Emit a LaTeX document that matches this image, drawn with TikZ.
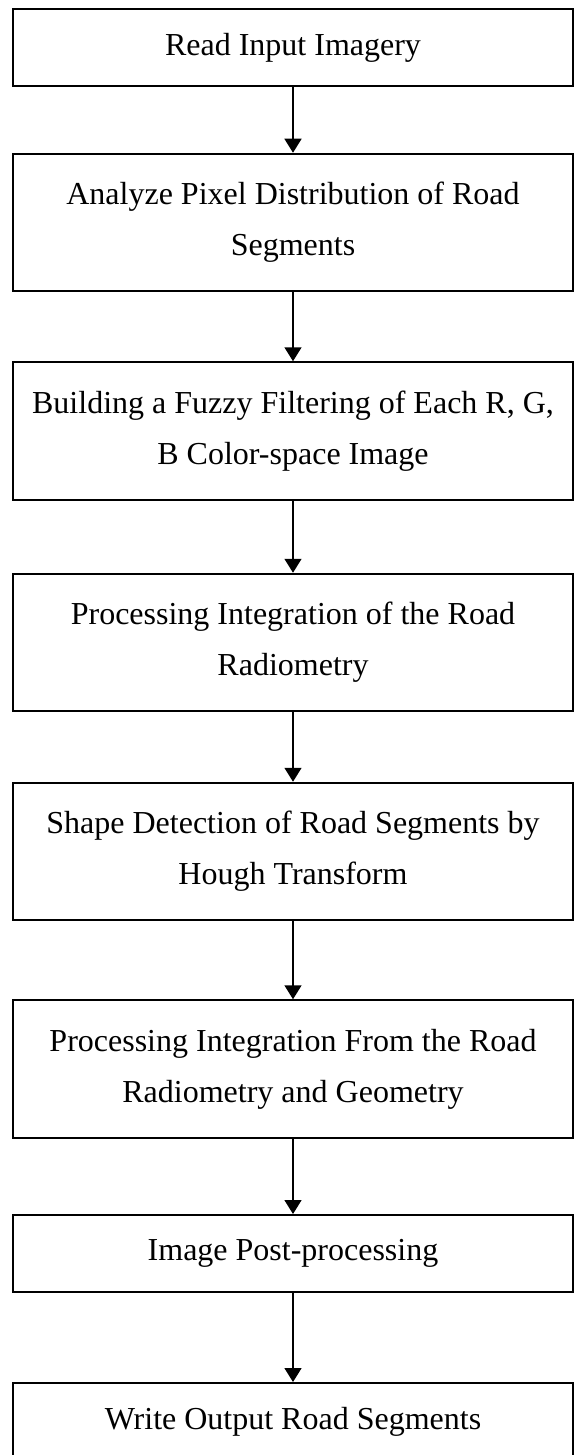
\documentclass[tikz,border=0pt]{standalone}
\usepackage{fontspec}
\setmainfont{Liberation Serif}
\usetikzlibrary{arrows.meta,positioning}

\begin{document}
\begin{tikzpicture}[x=0.5pt,y=-0.5pt,
    stepbox/.style={draw,line width=1pt,minimum width=280pt,inner sep=0pt,
        align=center,font=\fontsize{16}{25.5}\selectfont},
    shortbox/.style={stepbox,minimum height=38.5pt},
    tallbox/.style={stepbox,minimum height=68.75pt},
    flow/.style={-{Triangle[length=7pt,width=8.5pt]},line width=0.75pt}]
    \useasboundingbox (0,0) rectangle (574,1455);

    % Steps
    \node[shortbox] (read) at (293,47.5) {Read Input Imagery};
    \node[tallbox] (analyze) at (293,222.5) {Analyze Pixel Distribution of Road\\Segments};
    \node[tallbox] (fuzzy) at (293,431) {Building a Fuzzy Filtering of Each R, G,\\B Color-space Image};
    \node[tallbox] (radio) at (293,642.5) {Processing Integration of the Road\\Radiometry};
    \node[tallbox] (hough) at (293,851.5) {Shape Detection of Road Segments by\\Hough Transform};
    \node[tallbox] (geom) at (293,1069) {Processing Integration From the Road\\Radiometry and Geometry};
    \node[shortbox] (post) at (293,1253.5) {Image Post-processing};
    \node[shortbox] (write) at (293,1421.5) {Write Output Road Segments};

    % Arrows
    \draw[flow] (read) -- (analyze);
    \draw[flow] (analyze) -- (fuzzy);
    \draw[flow] (fuzzy) -- (radio);
    \draw[flow] (radio) -- (hough);
    \draw[flow] (hough) -- (geom);
    \draw[flow] (geom) -- (post);
    \draw[flow] (post) -- (write);
\end{tikzpicture}
\end{document}
